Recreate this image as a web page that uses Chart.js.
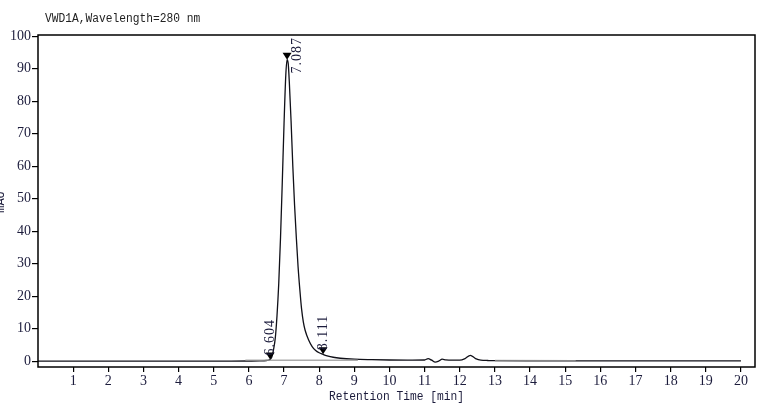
<!DOCTYPE html>
<html>
<head>
<meta charset="utf-8">
<script src="https://cdn.jsdelivr.net/npm/chart.js@4.4.0/dist/chart.umd.min.js"></script>
<style>
  html, body { margin: 0; padding: 0; background: #fff; }
  #wrap { position: relative; width: 778px; height: 415px; }
</style>
</head>
<body>
<div id="wrap"><canvas id="c" width="778" height="415"></canvas></div>
<script>
// ---- data ----
const times = [0, 1, 2, 3, 4, 5, 5.5, 6.0, 6.3, 6.5, 6.6, 6.65, 6.7, 6.75, 6.8, 6.85, 6.9, 6.95, 7.0, 7.05, 7.087, 7.12, 7.15, 7.2, 7.25, 7.3, 7.35, 7.4, 7.45, 7.5, 7.55, 7.6, 7.7, 7.8, 7.9, 8.0, 8.111, 8.2, 8.4, 8.6, 9.0, 9.5, 10.0, 10.5, 11.0, 11.1, 11.2, 11.3, 11.4, 11.5, 11.6, 11.8, 12.0, 12.15, 12.3, 12.45, 12.6, 12.8, 13.0, 14, 15, 16, 17, 18, 19, 20];
const signal = [0, 0, 0, 0, 0, 0, 0.02, 0.05, 0.08, 0.2, 0.5, 1.2, 3.5, 7, 14, 24, 38, 55, 73, 88, 92.8, 91.5, 86, 74, 60, 48, 38, 29, 22, 16, 12, 9.5, 6.5, 4.5, 3.3, 2.6, 2.1, 1.7, 1.2, 0.9, 0.6, 0.45, 0.35, 0.3, 0.35, 0.8, 0.3, -0.3, 0.0, 0.6, 0.4, 0.3, 0.3, 0.8, 1.8, 0.8, 0.3, 0.2, 0.15, 0.1, 0.1, 0.08, 0.08, 0.08, 0.08, 0.08];
const baselineTimes = [5.9, 9.1, null, 13.0, 15.3];
const baselineValues = [0.3, 0.3, null, 0.15, 0.12];
const peakTimes = [6.604, 7.087, 8.111];
const peakHeights = [0.5, 92.8, 2.1];
const peakLabels = ['6.604', '7.087', '8.111'];
const xTickValues = [1, 2, 3, 4, 5, 6, 7, 8, 9, 10, 11, 12, 13, 14, 15, 16, 17, 18, 19, 20];
const yTickValues = [0, 10, 20, 30, 40, 50, 60, 70, 80, 90, 100];
const chartTitle = 'VWD1A,Wavelength=280 nm';
const xTitle = 'Retention Time [min]';
const yTitle = 'mAU';

const traceData = times.map((t, i) => ({ x: t, y: signal[i] }));
const baseData = baselineTimes.map((t, i) => ({ x: t, y: baselineValues[i] }));

const tickColor = '#1c1c3c';

function monoText(ctx, text, x, y, align) {
  ctx.save();
  ctx.translate(x, y);
  ctx.scale(0.9, 1.05);
  ctx.textAlign = align;
  ctx.fillText(text, 0, 0);
  ctx.restore();
}

const decor = {
  id: 'decor',
  afterDraw(chart) {
    const { ctx, chartArea: a, scales } = chart;
    const xs = scales.x, ys = scales.y;
    ctx.save();
    // frame
    ctx.strokeStyle = '#000';
    ctx.lineWidth = 1.5;
    ctx.strokeRect(a.left, a.top, a.right - a.left, a.bottom - a.top);
    // title
    ctx.fillStyle = '#222';
    ctx.font = '12.5px "Liberation Mono", monospace';
    ctx.textBaseline = 'middle';
    monoText(ctx, chartTitle, 45, 19, 'left');
    // x title
    ctx.fillStyle = tickColor;
    monoText(ctx, xTitle, (a.left + a.right) / 2, 397, 'center');
    // y title (partly off the left edge)
    ctx.save();
    ctx.translate(4, 202);
    ctx.rotate(-Math.PI / 2);
    ctx.textAlign = 'center';
    ctx.textBaseline = 'alphabetic';
    ctx.font = '12px "Liberation Mono", monospace';
    ctx.fillText(yTitle, 0, 0);
    ctx.restore();
    // peak markers and labels
    ctx.font = '14px "Liberation Serif", serif';
    ctx.letterSpacing = '1px';
    peakTimes.forEach((t, i) => {
      const px = xs.getPixelForValue(t);
      const py = ys.getPixelForValue(peakHeights[i]);
      // triangle pointing down, tip at trace
      ctx.fillStyle = '#000';
      ctx.beginPath();
      ctx.moveTo(px - 4.5, py - 7);
      ctx.lineTo(px + 4.5, py - 7);
      ctx.lineTo(px, py);
      ctx.closePath();
      ctx.fill();
      // label
      const w = ctx.measureText(peakLabels[i]).width;
      let start = py - 4;
      let dx = 0;
      if (start - w < a.top + 2) { start = a.top + 2 + w; dx = 10; }
      ctx.save();
      ctx.translate(px + dx, start);
      ctx.rotate(-Math.PI / 2);
      ctx.textAlign = 'left';
      ctx.textBaseline = 'middle';
      ctx.fillStyle = '#1c1c3c';
      ctx.fillText(peakLabels[i], 0, 0);
      ctx.restore();
    });
    ctx.restore();
  }
};

new Chart(document.getElementById('c'), {
  type: 'scatter',
  data: {
    datasets: [
      {
        data: traceData,
        showLine: true,
        borderColor: '#101018',
        borderWidth: 1.3,
        pointRadius: 0,
        cubicInterpolationMode: 'monotone',
        order: 2
      },
      {
        data: baseData,
        showLine: true,
        spanGaps: false,
        borderColor: 'rgba(150,150,150,0.8)',
        borderWidth: 1.6,
        pointRadius: 0,
        order: 1
      }
    ]
  },
  options: {
    responsive: false,
    animation: false,
    devicePixelRatio: 1,
    layout: { padding: { left: 0, right: 23, top: 35, bottom: 0 } },
    plugins: { legend: { display: false }, tooltip: { enabled: false } },
    scales: {
      x: {
        type: 'linear',
        min: 0,
        max: 20.4,
        afterBuildTicks(s) { s.ticks = xTickValues.map(v => ({ value: v })); },
        afterFit(s) { s.height = 48; },
        grid: { drawOnChartArea: false, drawTicks: true, tickLength: 5, color: '#000', lineWidth: 1.2 },
        border: { display: false },
        ticks: {
          color: tickColor,
          padding: 1,
          maxRotation: 0,
          autoSkip: false,
          font: { family: '"Liberation Serif", serif', size: 14 },
          callback: v => String(v)
        }
      },
      y: {
        type: 'linear',
        min: -1.8,
        max: 100.4,
        afterBuildTicks(s) { s.ticks = yTickValues.map(v => ({ value: v })); },
        afterFit(s) { s.width = 38; },
        grid: { drawOnChartArea: false, drawTicks: true, tickLength: 6, color: '#000', lineWidth: 1.2 },
        border: { display: false },
        ticks: {
          color: tickColor,
          padding: 1,
          autoSkip: false,
          font: { family: '"Liberation Serif", serif', size: 14 },
          callback: v => String(v)
        }
      }
    }
  },
  plugins: [decor]
});
</script>
</body>
</html>
